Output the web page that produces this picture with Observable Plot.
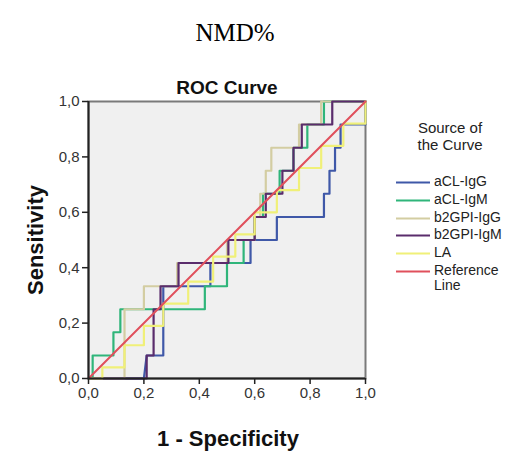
<!DOCTYPE html>
<html>
<head>
<meta charset="utf-8">
<script src="https://cdn.jsdelivr.net/npm/d3@7"></script>
<script src="https://cdn.jsdelivr.net/npm/@observablehq/plot@0.6"></script>
<style>
  body { margin: 0; background: #fff; }
  #wrap { position: relative; width: 518px; height: 453px; font-family: "Liberation Sans", Arial, sans-serif; }
  #wrap > svg { position: absolute; left: 0; top: 0; }
  #title { position: absolute; left: 0; width: 470px; top: 19px; text-align: center; font-family: "Liberation Serif", "Times New Roman", serif; font-size: 25px; color: #000; }
  #legend { position: absolute; left: 376px; top: 119px; width: 142px; font-size: 14px; color: #222; }
  #legend .head { text-align: center; font-size: 15px; line-height: 17px; margin-left: 6px; margin-bottom: 21px; }
  #legend .item { display: flex; align-items: flex-start; height: 17.8px; line-height: 15.5px; }
  #legend .sw { width: 34px; height: 16px; margin-left: 20px; margin-right: 4px; flex: none; }
</style>
</head>
<body>
<div id="wrap">
  <div id="title">NMD%</div>
  <div id="legend"></div>
</div>
<script>
// ---- data ----
const seriesNames = ["aCL-IgG", "aCL-IgM", "b2GPI-IgG", "b2GPI-IgM", "LA"];
const seriesColors = ["#3f58a8", "#2fb57a", "#d3cda2", "#5a2c6c", "#f0f078"];
const refName = "Reference Line";
const refColor = "#e0505c";

const aclIggX = [0, 0.2, 0.21, 0.27, 0.27, 0.44, 0.44, 0.585, 0.585, 0.68, 0.68, 0.85, 0.85, 0.87, 0.87, 0.89, 0.89, 0.91, 0.91, 1, 1];
const aclIggY = [0, 0, 0.083, 0.083, 0.333, 0.333, 0.417, 0.417, 0.5, 0.5, 0.583, 0.583, 0.667, 0.667, 0.75, 0.75, 0.833, 0.833, 0.917, 0.917, 1];

const aclIgmX = [0, 0.015, 0.015, 0.09, 0.09, 0.115, 0.115, 0.42, 0.42, 0.5, 0.5, 0.56, 0.56, 0.6, 0.6, 0.63, 0.63, 0.69, 0.69, 0.74, 0.74, 0.79, 0.79, 0.85, 0.85, 1];
const aclIgmY = [0, 0, 0.083, 0.083, 0.167, 0.167, 0.25, 0.25, 0.333, 0.333, 0.417, 0.417, 0.5, 0.5, 0.583, 0.583, 0.667, 0.667, 0.75, 0.75, 0.833, 0.833, 0.917, 0.917, 1, 1];

const b2IggX = [0, 0.13, 0.13, 0.2, 0.2, 0.32, 0.32, 0.5, 0.5, 0.6, 0.6, 0.62, 0.62, 0.64, 0.64, 0.66, 0.66, 0.76, 0.76, 0.84, 0.84, 1];
const b2IggY = [0, 0, 0.25, 0.25, 0.333, 0.333, 0.417, 0.417, 0.5, 0.5, 0.583, 0.583, 0.667, 0.667, 0.75, 0.75, 0.833, 0.833, 0.917, 0.917, 1, 1];

const b2IgmX = [0, 0.21, 0.21, 0.235, 0.235, 0.26, 0.26, 0.325, 0.325, 0.505, 0.505, 0.6, 0.6, 0.64, 0.64, 0.7, 0.7, 0.74, 0.74, 0.77, 0.77, 0.88, 0.88, 1];
const b2IgmY = [0, 0, 0.083, 0.083, 0.25, 0.25, 0.333, 0.333, 0.417, 0.417, 0.5, 0.5, 0.583, 0.583, 0.667, 0.667, 0.75, 0.75, 0.833, 0.833, 0.917, 0.917, 1, 1];

const laX = [0, 0.05, 0.05, 0.13, 0.13, 0.2, 0.2, 0.27, 0.27, 0.36, 0.36, 0.45, 0.45, 0.53, 0.53, 0.6, 0.6, 0.68, 0.68, 0.76, 0.76, 0.84, 0.84, 0.92, 0.92, 1, 1];
const laY = [0, 0, 0.04, 0.04, 0.12, 0.12, 0.19, 0.19, 0.27, 0.27, 0.35, 0.35, 0.44, 0.44, 0.52, 0.52, 0.6, 0.6, 0.68, 0.68, 0.76, 0.76, 0.84, 0.84, 0.92, 0.92, 1];

const refX = [0, 1];
const refY = [0, 1];

const tickValues = [0, 0.2, 0.4, 0.6, 0.8, 1.0];
const tickLabels = ["0,0", "0,2", "0,4", "0,6", "0,8", "1,0"];

// ---- build table ----
const xs = [aclIggX, aclIgmX, b2IggX, b2IgmX, laX];
const ys = [aclIggY, aclIgmY, b2IggY, b2IgmY, laY];
const rows = [];
seriesNames.forEach((name, i) => {
  xs[i].forEach((x, j) => rows.push({series: name, x, y: ys[i][j]}));
});
const refRows = refX.map((x, j) => ({series: refName, x, y: refY[j]}));

const fmt = d => tickLabels[tickValues.findIndex(t => Math.abs(t - d) < 1e-9)];

const chart = Plot.plot({
  width: 518,
  height: 453,
  marginLeft: 88,
  marginRight: 153,
  marginTop: 101,
  marginBottom: 75,
  style: {fontFamily: "'Liberation Sans', Arial, sans-serif", background: "transparent", overflow: "visible"},
  x: {domain: [0, 1], ticks: tickValues, tickFormat: fmt, label: null},
  y: {domain: [0, 1], ticks: tickValues, tickFormat: fmt, label: null},
  color: {domain: [...seriesNames, refName], range: [...seriesColors, refColor]},
  marks: [
    Plot.frame({fill: "#f0f0f0", stroke: "#7a7a7a", strokeWidth: 2}),
    Plot.line(rows, {x: "x", y: "y", z: "series", stroke: "series", strokeWidth: 2.2}),
    Plot.line(refRows, {x: "x", y: "y", stroke: "series", strokeWidth: 2}),
    Plot.ruleX([0], {stroke: "#222", strokeWidth: 2}),
    Plot.ruleY([0], {stroke: "#222", strokeWidth: 2}),
    Plot.axisX({ticks: tickValues, tickFormat: fmt, tickSize: 6, tickPadding: 3, fontSize: 15, stroke: "#222", strokeWidth: 1.5, fill: "#333", label: null}),
    Plot.axisY({ticks: tickValues, tickFormat: fmt, tickSize: 6, tickPadding: 3, fontSize: 15, stroke: "#222", strokeWidth: 1.5, fill: "#333", label: null}),
    Plot.text(["ROC Curve"], {frameAnchor: "top", lineAnchor: "bottom", dy: -8, fontSize: 19, fontWeight: "bold", fill: "#111"}),
    Plot.text(["1 - Specificity"], {frameAnchor: "bottom", lineAnchor: "middle", dx: 1, dy: 60, fontSize: 22, fontWeight: "bold", fill: "#111"}),
    Plot.text(["Sensitivity"], {frameAnchor: "left", textAnchor: "middle", lineAnchor: "middle", dx: -53, rotate: -90, fontSize: 22, fontWeight: "bold", fill: "#111"})
  ]
});
document.getElementById("wrap").insertBefore(chart, document.getElementById("title"));

// ---- legend ----
const legend = document.getElementById("legend");
legend.innerHTML = `<div class="head">Source of<br>the Curve</div>`;
[...seriesNames, refName].forEach((name, i) => {
  const color = i < seriesNames.length ? seriesColors[i] : refColor;
  const item = document.createElement("div");
  item.className = "item";
  const label = name === refName ? "Reference<br>Line" : name;
  item.innerHTML = `<svg class="sw" viewBox="0 0 34 16"><line x1="0" x2="34" y1="8.5" y2="8.5" stroke="${color}" stroke-width="2.2"/></svg><span>${label}</span>`;
  legend.appendChild(item);
});
</script>
</body>
</html>
